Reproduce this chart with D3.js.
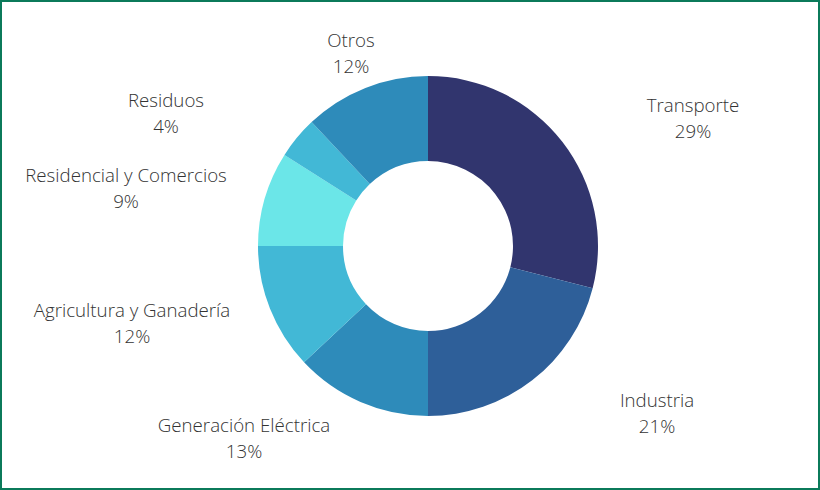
<!DOCTYPE html>
<html>
<head>
<meta charset="utf-8">
<script src="https://cdn.jsdelivr.net/npm/d3@7"></script>
<style>
  html, body { margin: 0; padding: 0; background: #fff; }
  svg { display: block; }
  .label { font-family: "Open Sans", sans-serif; font-weight: 300; font-size: 18.7px; fill: #333; }
</style>
</head>
<body>
<div id="chart"></div>
<script>
// ============================================================
//  Data
// ============================================================

const sectors = ['Transporte', 'Industria', 'Generación Eléctrica', 'Agricultura y Ganadería',
  'Residencial y Comercios', 'Residuos', 'Otros'];
const shares = [29, 21, 13, 12, 9, 4, 12];
const sliceColors = ['#31356e', '#2e5f99', '#2e8bba', '#42b8d6', '#6be6e8', '#42b8d6', '#2e8bba'];

// Label anchors (centre x, first baseline y), placed like the original "best fit"
const labelAnchors = [
  [693, 112], [657, 407], [244, 432], [132, 317], [126, 182], [166, 107], [351, 47]
];

// ============================================================
//  Layout
// ============================================================

const width = 820, height = 490;
const cx = 428, cy = 246;
const outerR = 170, innerR = 85;

const svg = d3.select('#chart').append('svg')
  .attr('width', width).attr('height', height);

svg.append('rect')
  .attr('x', 1).attr('y', 1)
  .attr('width', width - 2).attr('height', height - 2)
  .attr('fill', '#fff')
  .attr('stroke', '#0b7a5a')
  .attr('stroke-width', 2);

const data = sectors.map((name, i) => ({ name, value: shares[i], color: sliceColors[i] }));

const pie = d3.pie().value(d => d.value).sort(null);
const arc = d3.arc().innerRadius(innerR).outerRadius(outerR);

const g = svg.append('g').attr('transform', `translate(${cx}, ${cy})`);

g.selectAll('path.slice')
  .data(pie(data))
  .join('path')
  .attr('class', 'slice')
  .attr('d', arc)
  .attr('fill', d => d.data.color);

// ============================================================
//  Labels
// ============================================================

const labels = svg.selectAll('text.label')
  .data(data)
  .join('text')
  .attr('class', 'label')
  .attr('text-anchor', 'middle')
  .attr('transform', (d, i) => `translate(${labelAnchors[i][0]}, ${labelAnchors[i][1]})`);

labels.append('tspan').attr('x', 0).attr('y', 0).text(d => d.name);
labels.append('tspan').attr('x', 0).attr('y', 25.5).text(d => d3.format('.0%')(d.value / d3.sum(shares)));
</script>
</body>
</html>
